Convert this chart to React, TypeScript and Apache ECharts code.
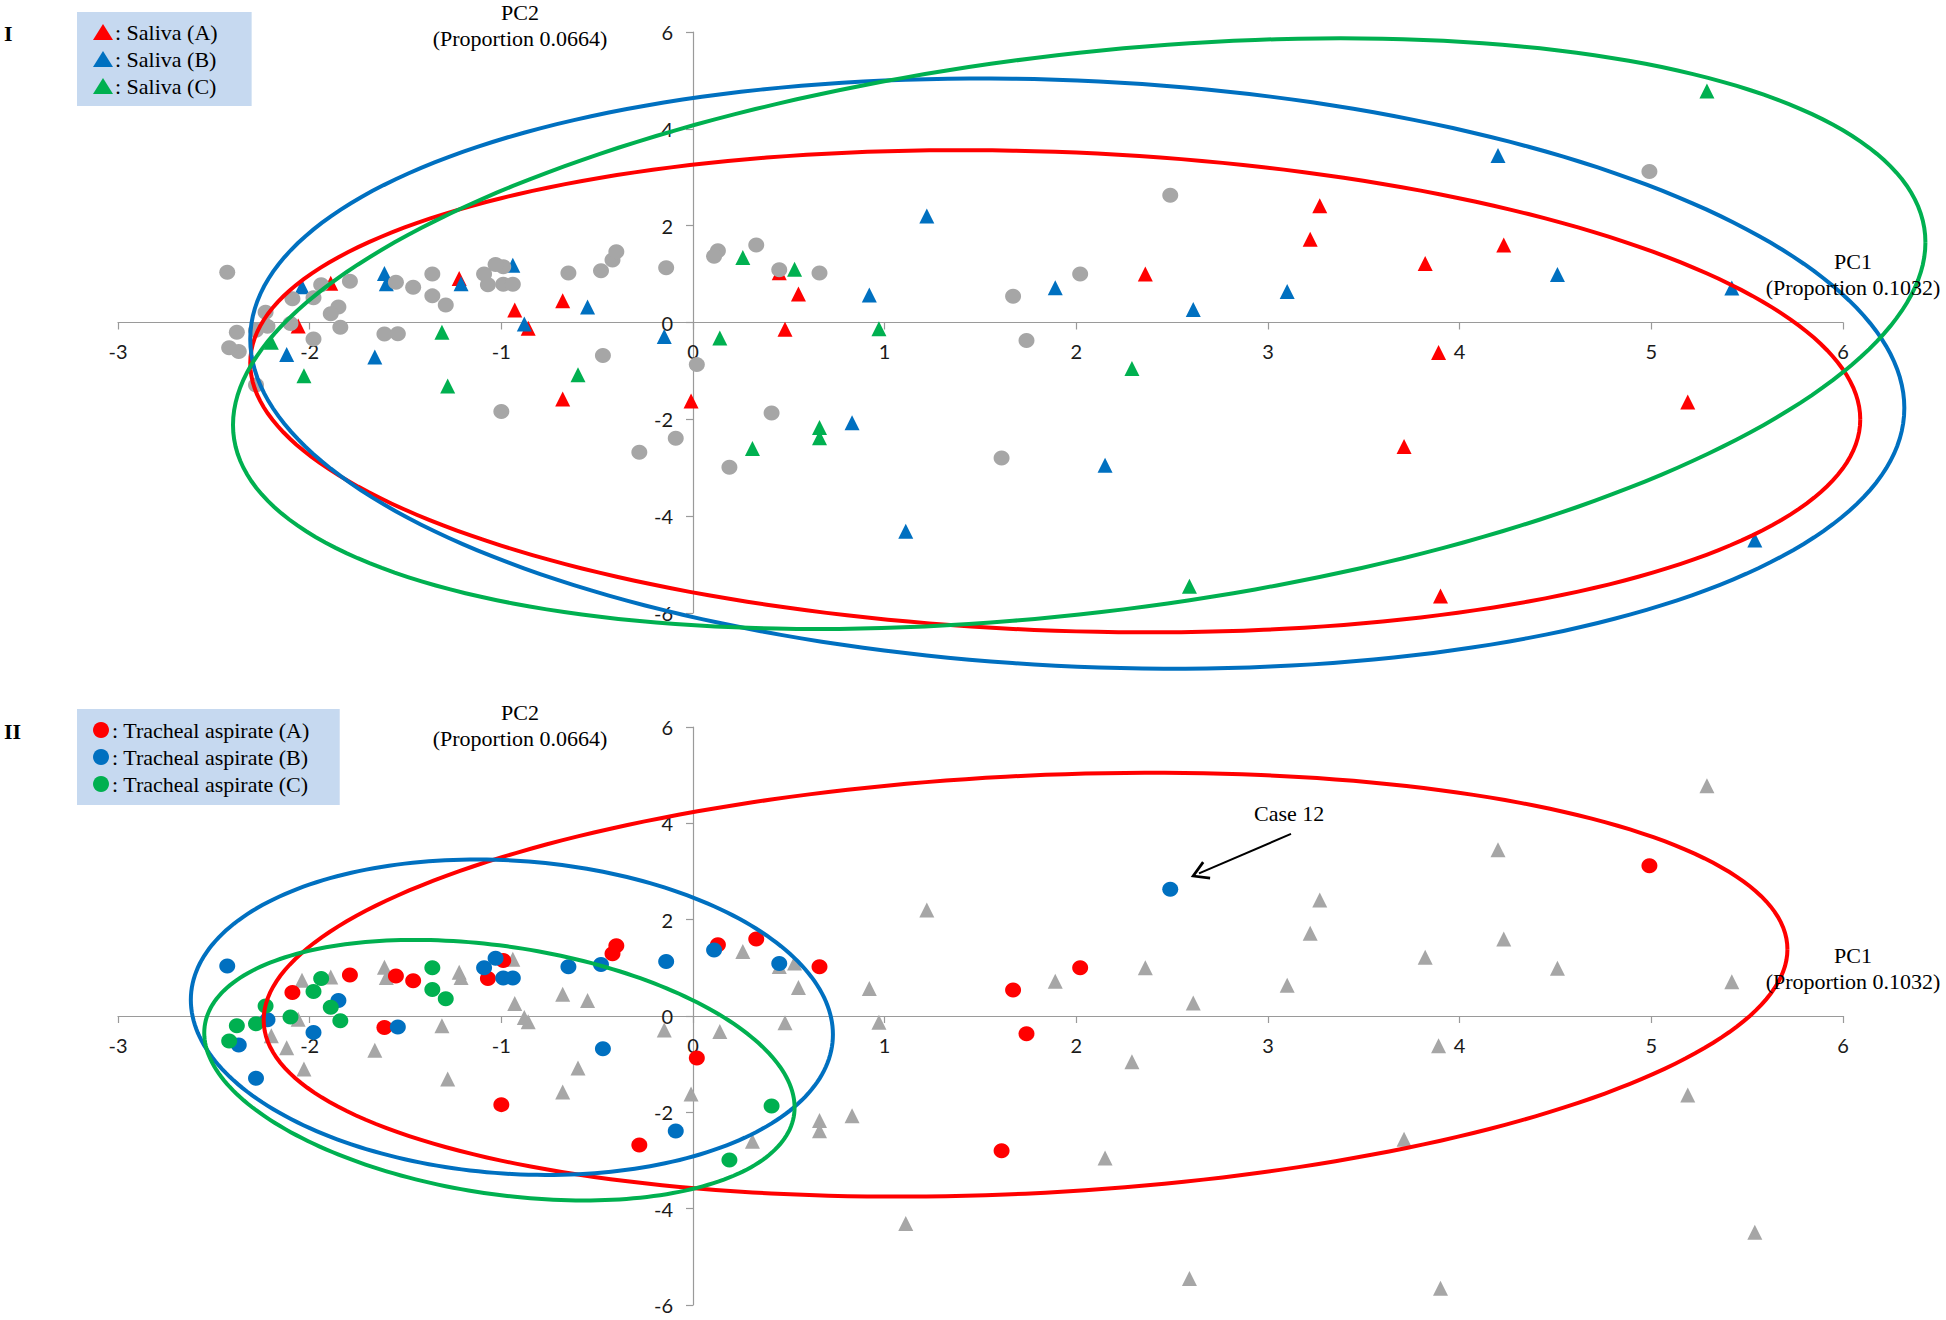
import React, { useEffect, useRef } from "react";
import * as echarts from "echarts";

// ---- Data (PC1, PC2) ----
const salivaA = [
  [-1.89, 0.81], [-2.06, -0.07], [-1.22, 0.91], [-0.93, 0.26], [-0.86, -0.12], [-0.68, 0.45],
  [-0.68, -1.58], [-0.01, -1.62], [0.45, 1.03], [0.55, 0.59], [0.48, -0.14],
  [2.36, 1.0], [3.22, 1.72], [3.27, 2.41], [3.82, 1.22], [4.23, 1.6], [3.89, -0.62],
  [5.19, -1.64], [3.71, -2.56], [3.9, -5.65],
];
const salivaB = [
  [-2.04, 0.74], [-1.61, 1.01], [-1.6, 0.8], [-1.21, 0.8], [-0.94, 1.18], [-0.88, -0.03],
  [-0.55, 0.32], [-0.15, -0.29], [-2.12, -0.66], [-1.66, -0.71], [0.92, 0.57], [0.83, -2.07],
  [1.22, 2.2], [1.89, 0.72], [2.61, 0.27], [3.1, 0.64], [4.2, 3.45], [4.51, 0.99],
  [5.42, 0.71], [2.15, -2.95], [1.11, -4.31], [5.54, -4.49],
];
const salivaC = [
  [-2.2, -0.41], [-2.03, -1.1], [-1.31, -0.2], [-1.28, -1.31], [-0.6, -1.08], [0.14, -0.32],
  [0.26, 1.34], [0.53, 1.1], [0.97, -0.13], [0.31, -2.6], [0.66, -2.17], [0.66, -2.38],
  [2.29, -0.95], [2.59, -5.45], [5.29, 4.78],
];
const trachealA = [
  [-2.09, 0.49], [-1.79, 0.85], [-1.55, 0.83], [-1.46, 0.73], [-1.61, -0.24], [-1.07, 0.78],
  [-0.99, 1.15], [-0.42, 1.29], [-0.4, 1.46], [0.13, 1.48], [0.33, 1.6], [0.66, 1.02],
  [0.02, -0.87], [-1.0, -1.84], [-0.28, -2.68], [1.67, 0.54], [2.02, 1.0], [1.74, -0.37],
  [1.61, -2.8], [4.99, 3.12],
];
const trachealB = [
  [-2.43, 1.04], [-2.37, -0.6], [-2.28, -1.29], [-2.22, -0.08], [-1.98, -0.34], [-1.85, 0.32],
  [-1.54, -0.23], [-1.09, 1.0], [-1.03, 1.2], [-0.99, 0.79], [-0.94, 0.79], [-0.65, 1.02],
  [-0.48, 1.07], [-0.47, -0.68], [-0.14, 1.13], [-0.09, -2.39], [0.11, 1.37], [0.45, 1.09],
  [2.49, 2.63],
];
const trachealC = [
  [-2.42, -0.52], [-2.38, -0.2], [-2.28, -0.16], [-2.23, 0.21], [-2.1, -0.02], [-1.98, 0.51],
  [-1.94, 0.78], [-1.89, 0.18], [-1.84, -0.1], [-1.36, 1.0], [-1.36, 0.55], [-1.29, 0.36],
  [0.41, -1.87], [0.19, -2.99],
];

// Confidence ellipses: [centerPC1, centerPC2, halfWidthPC1, halfHeightPC2, phaseDeg, group]
const salivaEllipses = [
  [1.89, -1.42, 4.2, 4.98, 96.7, 0],
  [2.005, -1.055, 4.315, 6.095, 96.7, 1],
  [2.015, -0.23, 4.415, 6.1, 72, 2],
];
const trachealEllipses = [
  [1.735, 0.65, 3.975, 4.4, 80.4, 0],
  [-0.945, -0.025, 1.675, 3.275, 96.3, 1],
  [-1.01, -1.125, 1.54, 2.705, 106.6, 2],
];

const salivaNames = ["Saliva (A)", "Saliva (B)", "Saliva (C)"];
const trachealNames = ["Tracheal aspirate (A)", "Tracheal aspirate (B)", "Tracheal aspirate (C)"];
const pc1Title = "PC1\n(Proportion 0.1032)";
const pc2Title = "PC2\n(Proportion 0.0664)";
const caseLabel = "Case 12";
const caseLabelAt = [3.11, 4.21];
const caseArrowFrom = [3.12, 3.78];
const caseArrowTo = [2.64, 2.96];

const X_MIN = -3, X_MAX = 6, Y_MIN = -6, Y_MAX = 6;

const COLORS = ["#ff0000", "#0070c0", "#00b050"];
const GRAY = "#a6a6a6";
const SERIF = "Liberation Serif";

function ellipseRenderer(params: any, api: any) {
  const cx = api.value(0);
  const cy = api.value(1);
  const rx = api.value(2);
  const ry = api.value(3);
  const d = (api.value(4) * Math.PI) / 180;
  const g = api.value(5);
  const pts: number[][] = [];
  const N = 240;
  for (let i = 0; i <= N; i++) {
    const t = (i / N) * Math.PI * 2;
    pts.push(api.coord([cx + rx * Math.cos(t), cy + ry * Math.cos(t - d)]));
  }
  return {
    type: "polyline",
    shape: { points: pts },
    style: { fill: "none", stroke: COLORS[g], lineWidth: 4 },
  };
}

const GRID_W = 1725;
const GRIDS = [
  { left: 118, top: 32, width: GRID_W, height: 581 },
  { left: 118, top: 727, width: GRID_W, height: 578 },
];

const axisLineColor = "#9a9a9a";
const tickFont = { fontFamily: "Lato", fontSize: 20, lineHeight: 17, color: "#1a1a1a" };
function xAxisCfg(gridIndex: number) {
  const h = GRIDS[gridIndex].height;
  const off = -h * ((0 - Y_MIN) / (Y_MAX - Y_MIN)); // axis sits on PC2 = 0
  return {
    type: "value",
    gridIndex,
    position: "bottom",
    offset: off,
    min: X_MIN,
    max: X_MAX,
    interval: 1,
    axisLine: { onZero: false, lineStyle: { color: axisLineColor, width: 1.2 } },
    axisTick: { show: true, length: 7, lineStyle: { color: axisLineColor, width: 1.2 } },
    axisLabel: { margin: 20, ...tickFont, showMinLabel: true, showMaxLabel: true },
    splitLine: { show: false },
  };
}
function yAxisCfg(gridIndex: number) {
  const w = GRIDS[gridIndex].width;
  const off = -w * ((0 - X_MIN) / (X_MAX - X_MIN)); // axis sits on PC1 = 0
  return {
    type: "value",
    gridIndex,
    position: "left",
    offset: off,
    min: Y_MIN,
    max: Y_MAX,
    interval: 2,
    axisLine: { onZero: false, lineStyle: { color: axisLineColor, width: 1.2 } },
    axisTick: { show: true, length: 7, lineStyle: { color: axisLineColor, width: 1.2 } },
    axisLabel: { margin: 20, ...tickFont, showMinLabel: true, showMaxLabel: true },
    splitLine: { show: false },
  };
}

function textEl(text: string, x: number, y: number, opts: any = {}) {
  return {
    type: "text",
    x,
    y,
    z: 10,
    style: {
      text,
      fill: "#000",
      font: `${opts.weight || "normal"} ${opts.size || 22}px "${SERIF}"`,
      textAlign: opts.align || "center",
      textVerticalAlign: "top",
      lineHeight: opts.lineHeight || 26,
    },
  };
}

const legendCommon = {
  orient: "vertical",
  left: 77,
  selectedMode: false,
  backgroundColor: "#c6d9f0",
  itemGap: 5,
  formatter: ": {name}",
  textStyle: { fontFamily: SERIF, fontSize: 22, color: "#000", lineHeight: 22, padding: [0, 0, 0, -3] },
};

const openArrow = "path://M10,0 L20,17 L17.6,18.4 L10,5.4 L2.4,18.4 L0,17 Z";

const option: any = {
  animation: false,
  backgroundColor: "#ffffff",
  grid: GRIDS.map((g) => ({ ...g, containLabel: false })),
  xAxis: [xAxisCfg(0), xAxisCfg(1)],
  yAxis: [yAxisCfg(0), yAxisCfg(1)],
  legend: [
    {
      ...legendCommon,
      top: 12,
      padding: [9, 34, 9, 16],
      icon: "triangle",
      itemWidth: 20,
      itemHeight: 16,
      data: salivaNames,
    },
    {
      ...legendCommon,
      top: 709,
      padding: [10, 30, 10, 16],
      icon: "circle",
      itemWidth: 18,
      itemHeight: 16,
      data: trachealNames,
    },
  ],
  graphic: [
    textEl("I", 4, 20, { weight: "bold", align: "left" }),
    textEl("II", 4, 718, { weight: "bold", align: "left" }),
    textEl(pc2Title, 520, -1),
    textEl(pc2Title, 520, 699),
    textEl(pc1Title, 1853, 248),
    textEl(pc1Title, 1853, 942),
  ],
  series: [
    // Panel I
    ...[salivaA, salivaB, salivaC].map((d, i) => ({
      name: salivaNames[i],
      type: "scatter",
      xAxisIndex: 0,
      yAxisIndex: 0,
      symbol: "triangle",
      symbolSize: [15, 15],
      itemStyle: { color: COLORS[i], opacity: 1 },
      data: d,
      z: 3,
    })),
    {
      name: "Tracheal aspirate (all)",
      type: "scatter",
      xAxisIndex: 0,
      yAxisIndex: 0,
      symbol: "circle",
      symbolSize: [16, 15],
      itemStyle: { color: GRAY, opacity: 1 },
      data: [...trachealA, ...trachealB, ...trachealC],
      z: 3,
    },
    {
      name: "Saliva ellipses",
      type: "custom",
      xAxisIndex: 0,
      yAxisIndex: 0,
      renderItem: ellipseRenderer,
      encode: { x: 0, y: 1 },
      data: salivaEllipses,
      clip: false,
      silent: true,
      z: 5,
    },
    // Panel II
    {
      name: "Saliva (all)",
      type: "scatter",
      xAxisIndex: 1,
      yAxisIndex: 1,
      symbol: "triangle",
      symbolSize: [15, 15],
      itemStyle: { color: GRAY, opacity: 1 },
      data: [...salivaA, ...salivaB, ...salivaC],
      z: 3,
    },
    ...[trachealA, trachealB, trachealC].map((d, i) => ({
      name: trachealNames[i],
      type: "scatter",
      xAxisIndex: 1,
      yAxisIndex: 1,
      symbol: "circle",
      symbolSize: [16, 15],
      itemStyle: { color: COLORS[i], opacity: 1 },
      data: d,
      z: 3,
    })),
    {
      name: "Tracheal ellipses",
      type: "custom",
      xAxisIndex: 1,
      yAxisIndex: 1,
      renderItem: ellipseRenderer,
      encode: { x: 0, y: 1 },
      data: trachealEllipses,
      clip: false,
      silent: true,
      z: 5,
    },
    {
      name: "Annotation",
      type: "scatter",
      xAxisIndex: 1,
      yAxisIndex: 1,
      data: [],
      silent: true,
      markPoint: {
        symbol: "rect",
        symbolSize: 0,
        silent: true,
        label: {
          show: true,
          position: "inside",
          formatter: caseLabel,
          color: "#000",
          fontFamily: SERIF,
          fontSize: 22,
        },
        data: [{ coord: caseLabelAt }],
      },
      markLine: {
        silent: true,
        symbol: ["none", openArrow],
        symbolSize: [20, 18],
        symbolOffset: [0, 0],
        label: { show: false },
        lineStyle: { color: "#000", width: 2, type: "solid" },
        itemStyle: { color: "#000" },
        data: [[{ coord: caseArrowFrom }, { coord: caseArrowTo }]],
      },
    },
  ],
};

export default function App() {
  const ref = useRef<HTMLDivElement>(null);
  useEffect(() => {
    document.body.style.margin = "0";
    const chart = echarts.init(ref.current as HTMLDivElement, null, { renderer: "svg" });
    chart.setOption(option);
    return () => chart.dispose();
  }, []);
  return (
    <div
      ref={ref}
      style={{ position: "absolute", left: 0, top: 0, width: 1946, height: 1320, background: "#fff" }}
    />
  );
}
